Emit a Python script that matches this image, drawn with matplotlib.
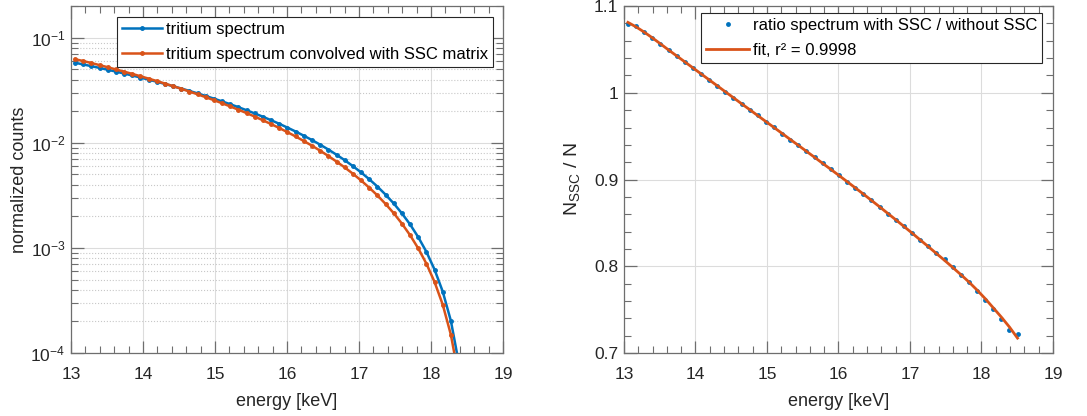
import matplotlib
matplotlib.use('Agg')
import matplotlib.pyplot as plt
from matplotlib.ticker import MultipleLocator, LogLocator, FuncFormatter, NullFormatter

plt.rcParams['font.family'] = ['Liberation Sans', 'DejaVu Sans']
plt.rcParams['font.size'] = 12

# energy bins [keV]
energy = [13.056, 13.170, 13.283, 13.397, 13.510, 13.624, 13.737, 13.851, 13.964,
          14.078, 14.191, 14.305, 14.418, 14.532, 14.645, 14.759, 14.872, 14.986,
          15.099, 15.213, 15.326, 15.440, 15.553, 15.667, 15.780, 15.894, 16.007,
          16.121, 16.234, 16.348, 16.461, 16.575, 16.688, 16.802, 16.915, 17.029,
          17.142, 17.256, 17.369, 17.483, 17.596, 17.710, 17.823, 17.937, 18.050,
          18.164, 18.277, 18.391, 18.504]

# tritium spectrum without SSC
spec = [0.05780, 0.05570, 0.05363, 0.05159, 0.04957, 0.04759, 0.04563, 0.04371, 0.04182,
        0.03995, 0.03813, 0.03633, 0.03457, 0.03285, 0.03116, 0.02951, 0.02789, 0.02632,
        0.02478, 0.02328, 0.02182, 0.02040, 0.01903, 0.01769, 0.01640, 0.01516, 0.01395,
        0.01280, 0.01168, 0.01062, 0.009600, 0.008629, 0.007705, 0.006832, 0.006007, 0.005232,
        0.004509, 0.003836, 0.003216, 0.002649, 0.002134, 0.001674, 0.001268, 0.0009174, 0.0006224,
        0.0003836, 0.0002019, 7.76e-5, 1.15e-5]

# tritium spectrum convolved with SSC matrix
spec_ssc = [0.06241, 0.06002, 0.05741, 0.05487, 0.05238, 0.04993, 0.04757, 0.04527, 0.04302,
            0.04082, 0.03871, 0.03662, 0.03461, 0.03266, 0.03076, 0.02894, 0.02716, 0.02544,
            0.02379, 0.02218, 0.02064, 0.01917, 0.01775, 0.01637, 0.01507, 0.01382, 0.01262,
            0.01149, 0.01040, 0.009381, 0.008410, 0.007489, 0.006632, 0.005830, 0.005086, 0.004387,
            0.003745, 0.003160, 0.002622, 0.002140, 0.001705, 0.001322, 0.000991, 0.000708, 0.000474,
            0.000288, 0.000149, 5.64e-5, 8.3e-6]

# ratio with SSC / without SSC
ratio = [1.0798, 1.0775, 1.0705, 1.0636, 1.0566, 1.0492, 1.0426, 1.0357, 1.0287,
         1.0217, 1.0151, 1.0081, 1.0012, 0.9942, 0.9872, 0.9806, 0.9740, 0.9667,
         0.9601, 0.9527, 0.9461, 0.9395, 0.9326, 0.9256, 0.9186, 0.9116, 0.9047,
         0.8973, 0.8903, 0.8833, 0.8760, 0.8679, 0.8607, 0.8534, 0.8466, 0.8385,
         0.8305, 0.8237, 0.8153, 0.8080, 0.7989, 0.7897, 0.7817, 0.7718, 0.7615,
         0.7511, 0.7393, 0.7271, 0.7218]

# fitted ratio
ratio_fit = [1.0812, 1.0760, 1.0700, 1.0634, 1.0565, 1.0494, 1.0426, 1.0357, 1.0288,
             1.0219, 1.0150, 1.0081, 1.0012, 0.9943, 0.9874, 0.9806, 0.9737, 0.9668,
             0.9600, 0.9531, 0.9462, 0.9394, 0.9325, 0.9256, 0.9186, 0.9117, 0.9047,
             0.8976, 0.8905, 0.8833, 0.8760, 0.8686, 0.8611, 0.8536, 0.8460, 0.8383,
             0.8305, 0.8227, 0.8148, 0.8069, 0.7988, 0.7905, 0.7820, 0.7727, 0.7629,
             0.7522, 0.7415, 0.7300, 0.7172]

blue = '#0072BD'
orange = '#D95319'
axcol = '#6e6e6e'
txtcol = '#262626'

fig = plt.figure(figsize=(10.87, 4.16), dpi=100)
ax1 = fig.add_axes([0.0653, 0.1514, 0.3974, 0.834])
ax2 = fig.add_axes([0.574, 0.1514, 0.3947, 0.834])


def style_axes(ax):
    for s in ax.spines.values():
        s.set_color(axcol)
        s.set_linewidth(0.9)
    ax.tick_params(which='both', direction='in', top=True, right=True,
                   colors=axcol, labelcolor=txtcol, labelsize=12.5)
    ax.tick_params(which='major', length=9, width=0.9)
    ax.tick_params(which='minor', length=5, width=0.8)
    ax.tick_params(axis='x', which='major', pad=10)
    ax.tick_params(axis='y', which='major', pad=4)
    ax.set_xlim(13, 19)
    ax.xaxis.set_major_locator(MultipleLocator(1))
    ax.xaxis.set_minor_locator(MultipleLocator(0.2))
    ax.grid(True, which='major', color='#dcdcdc', linewidth=0.8)
    ax.set_axisbelow(True)
    ax.set_xlabel('energy [keV]', fontsize=13, color=txtcol, labelpad=8)


# left: spectra
style_axes(ax1)
ax1.set_yscale('log')
ax1.set_ylim(1e-4, 0.2)
ax1.yaxis.set_major_locator(LogLocator(base=10, numticks=10))
ax1.yaxis.set_minor_locator(LogLocator(base=10, subs=range(2, 10), numticks=20))
ax1.yaxis.set_minor_formatter(NullFormatter())
ax1.grid(True, which='minor', axis='y', color='#c8c8c8', linestyle=':', linewidth=0.8)
ax1.plot(energy, spec, '.-', color=blue, lw=1.8, ms=5, label='tritium spectrum')
ax1.plot(energy, spec_ssc, '.-', color=orange, lw=1.8, ms=5,
         label='tritium spectrum convolved with SSC matrix')
ax1.set_ylabel('normalized counts', fontsize=13, color=txtcol, labelpad=2)
leg1 = ax1.legend(loc='upper right', bbox_to_anchor=(1 - 10 / 432, 1 - 11 / 347),
                  borderaxespad=0, fancybox=False, edgecolor=txtcol, framealpha=1,
                  fontsize=12, handlelength=2.4, handletextpad=0.2, borderpad=0.3,
                  labelspacing=0.6)
leg1.get_frame().set_linewidth(0.8)

# right: ratio and fit
style_axes(ax2)
ax2.set_ylim(0.7, 1.1)
ax2.yaxis.set_major_locator(MultipleLocator(0.1))
ax2.yaxis.set_minor_locator(MultipleLocator(0.02))
ax2.yaxis.set_major_formatter(FuncFormatter(lambda v, p: '%g' % round(v, 2)))
ax2.plot(energy, ratio, 'o', color=blue, ms=3.5, mec='none',
         label='ratio spectrum with SSC / without SSC')
ax2.plot(energy, ratio_fit, '-', color=orange, lw=2, label='fit, r² = 0.9998')
ax2.set_ylabel(r'$\mathregular{N_{SSC}}$ / N', fontsize=14, color=txtcol, labelpad=9)
leg2 = ax2.legend(loc='upper right', bbox_to_anchor=(1 - 11 / 429, 1 - 7 / 347),
                  borderaxespad=0, fancybox=False, edgecolor=txtcol, framealpha=1,
                  fontsize=12, handlelength=2.6, handletextpad=0.2, borderpad=0.3,
                  labelspacing=0.6)
leg2.get_frame().set_linewidth(0.8)

fig.savefig('out.png', dpi=100)
